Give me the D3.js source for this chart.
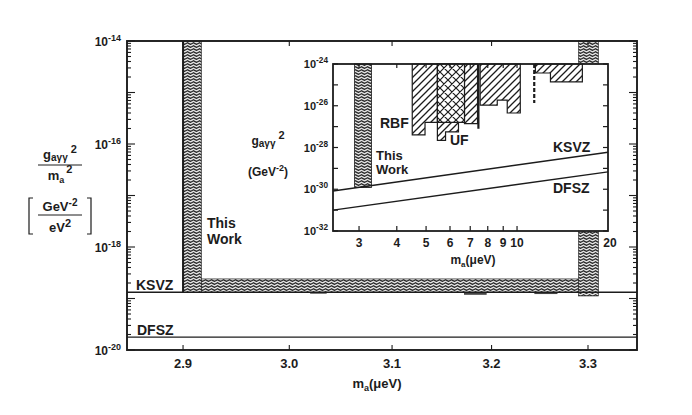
<!DOCTYPE html>
<html><head><meta charset="utf-8">
<script src="https://cdn.jsdelivr.net/npm/d3@7"></script>
<style>
body{margin:0;background:#fff}
svg{display:block}
text{font-family:"Liberation Sans",Arial,Helvetica,sans-serif;font-weight:bold;fill:#1c1c1c}
</style>
</head><body>
<svg id="c" width="692" height="415"></svg>
<script>
// ---------------- data ----------------
// main panel
const mainXTicks = [2.9, 3.0, 3.1, 3.2, 3.3];
const mainXTickLabels = ["2.9", "3.0", "3.1", "3.2", "3.3"];
const mainYLabelExps = [-14, -16, -18, -20];
const mainKSVZ = 1.32e-19;
const mainDFSZ = 1.78e-20;
// "This Work" excluded region: [m low, m high, g2/m2 top, g2/m2 bottom]
const thisWorkMain = [
  [2.900, 2.917, 1e-14, 1.32e-19],
  [2.917, 3.290, 2.40e-19, 1.32e-19],
  [3.290, 3.311, 1e-14, 1.12e-19]
];
// small dips below KSVZ line
const thisWorkDips = [
  [3.020, 3.036, 1.24e-19],
  [3.172, 3.195, 1.18e-19],
  [3.244, 3.268, 1.22e-19]
];

// inset panel
const insetXTicks = [3, 4, 5, 6, 7, 8, 9, 10];
const insetXTickLabels = ["3", "4", "5", "6", "7", "8", "9", "10"];
const insetXEndLabel = "20";
const insetYLabelExps = [-24, -26, -28, -30, -32];
const insetKSVZ = [[2.46, 8.3e-31], [20, 5.9e-29]];
const insetDFSZ = [[2.46, 1.0e-31], [20, 6.8e-30]];
const insetThisWork = [2.9, 3.3, 1e-24, 1.2e-30];
// RBF exclusion regions, each a list of steps [m low, m high, g2 bottom]
const rbfRegions = [
  [[4.50, 4.96, 4.0e-28], [4.96, 5.45, 1.6e-27]],
  [[6.70, 7.40, 1.4e-27]],
  [[7.55, 8.60, 1.07e-26], [8.60, 9.28, 1.86e-26], [9.28, 10.25, 4.5e-27]],
  [[11.5, 12.9, 3.7e-25], [12.9, 16.45, 1.38e-25]]
];
// UF exclusion (cross-hatched) and its lower part
const ufCross = [[5.45, 6.70, 1.6e-27]];
const ufLower = [[5.45, 5.80, 2.2e-28], [5.80, 6.40, 5.6e-28]];
// thin vertical exclusion lines [m, g2 bottom, dashed]
const rbfLines = [[7.45, 7.9e-28, false], [11.4, 1.35e-26, true]];

// ---------------- drawing ----------------
const svg = d3.select("#c");
const defs = svg.append("defs");
const ink = "#1c1c1c";

// patterns
const pw = defs.append("pattern").attr("id", "wave").attr("patternUnits", "userSpaceOnUse")
  .attr("width", 6).attr("height", 3);
pw.append("rect").attr("width", 6).attr("height", 3).attr("fill", "#e4e4e4");
pw.append("path").attr("d", "M0,1.6 L1.5,0.8 L3,1.6 L4.5,2.4 L6,1.6")
  .attr("fill", "none").attr("stroke", "#262626").attr("stroke-width", 1.2);

const pd = defs.append("pattern").attr("id", "diag").attr("patternUnits", "userSpaceOnUse")
  .attr("width", 7).attr("height", 7);
pd.append("rect").attr("width", 7).attr("height", 7).attr("fill", "#fff");
pd.append("path").attr("d", "M-1,8 L8,-1 M-1,1 L1,-1 M6,8 L8,6")
  .attr("stroke", ink).attr("stroke-width", 1.3);

const pc = defs.append("pattern").attr("id", "cross").attr("patternUnits", "userSpaceOnUse")
  .attr("width", 8).attr("height", 8);
pc.append("rect").attr("width", 8).attr("height", 8).attr("fill", "#fff");
pc.append("path").attr("d", "M-1,9 L9,-1 M-1,-1 L9,9 M-1,1 L1,-1 M7,9 L9,7 M-1,7 L1,9 M7,-1 L9,1")
  .attr("stroke", ink).attr("stroke-width", 1.2);

function powLabel(g, x, y, exp, size, anchor) {
  const t = g.append("text").attr("x", x).attr("y", y).attr("text-anchor", anchor || "end")
    .attr("font-size", size);
  t.append("tspan").text("10");
  t.append("tspan").attr("dy", -size * 0.45).attr("font-size", size * 0.75).text(String(exp));
  return t;
}

// ---- main panel ----
const M = {l: 127, r: 637, t: 41, b: 350};
const x = d3.scaleLog().domain([2.8486, 3.352]).range([M.l, M.r]);
const y = d3.scaleLog().domain([1e-20, 1e-14]).range([M.b, M.t]);
const main = svg.append("g");

// This Work region
main.selectAll("rect.tw").data(thisWorkMain).join("rect").attr("class", "tw")
  .attr("x", d => x(d[0])).attr("width", d => x(d[1]) - x(d[0]))
  .attr("y", d => y(d[2])).attr("height", d => y(d[3]) - y(d[2]))
  .attr("fill", "url(#wave)").attr("stroke", ink).attr("stroke-width", 0.6);
main.append("line").attr("x1", x(thisWorkMain[0][0])).attr("x2", x(thisWorkMain[0][0]))
  .attr("y1", y(thisWorkMain[0][2])).attr("y2", y(thisWorkMain[0][3]))
  .attr("stroke", ink).attr("stroke-width", 2);
main.selectAll("rect.dip").data(thisWorkDips).join("rect").attr("class", "dip")
  .attr("x", d => x(d[0])).attr("width", d => x(d[1]) - x(d[0]))
  .attr("y", y(mainKSVZ)).attr("height", d => y(d[2]) - y(mainKSVZ))
  .attr("fill", "#444");

// KSVZ / DFSZ lines
main.append("line").attr("x1", M.l).attr("x2", M.r).attr("y1", y(mainKSVZ)).attr("y2", y(mainKSVZ))
  .attr("stroke", ink).attr("stroke-width", 1.6);
main.append("line").attr("x1", M.l).attr("x2", M.r).attr("y1", y(mainDFSZ)).attr("y2", y(mainDFSZ))
  .attr("stroke", ink).attr("stroke-width", 1.2);

// y ticks (log, minor)
const yt = [];
for (let d = -20; d < -14; d++) for (let k = 1; k < 10; k++) yt.push([k * Math.pow(10, d), k === 1]);
yt.push([1e-14, true]);
yt.forEach(([v, maj]) => {
  const len = maj ? 8 : 4;
  main.append("line").attr("x1", M.l).attr("x2", M.l + len).attr("y1", y(v)).attr("y2", y(v))
    .attr("stroke", ink).attr("stroke-width", 1.1);
  main.append("line").attr("x1", M.r).attr("x2", M.r - len).attr("y1", y(v)).attr("y2", y(v))
    .attr("stroke", ink).attr("stroke-width", 1.1);
});
mainYLabelExps.forEach(e => powLabel(main, M.l - 6, y(Math.pow(10, e)) + 5, e, 12));

// x ticks
mainXTicks.forEach((v, i) => {
  main.append("line").attr("x1", x(v)).attr("x2", x(v)).attr("y1", M.b).attr("y2", M.b - 5)
    .attr("stroke", ink).attr("stroke-width", 1.1);
  main.append("line").attr("x1", x(v)).attr("x2", x(v)).attr("y1", M.t).attr("y2", M.t + 5)
    .attr("stroke", ink).attr("stroke-width", 1.1);
  main.append("text").attr("x", x(v)).attr("y", 368).attr("text-anchor", "middle")
    .attr("font-size", 13).text(mainXTickLabels[i]);
});

// frame
main.append("rect").attr("x", M.l).attr("y", M.t).attr("width", M.r - M.l).attr("height", M.b - M.t)
  .attr("fill", "none").attr("stroke", ink).attr("stroke-width", 1.9);

// labels
main.append("text").attr("x", 136).attr("y", 290).attr("font-size", 14).text("KSVZ");
main.append("text").attr("x", 137).attr("y", 335).attr("font-size", 14).text("DFSZ");
main.append("text").attr("x", 207).attr("y", 228).attr("font-size", 14).text("This");
main.append("text").attr("x", 207).attr("y", 244).attr("font-size", 14).text("Work");

// x title
const xt = main.append("text").attr("x", 377).attr("y", 388).attr("text-anchor", "middle").attr("font-size", 13);
xt.append("tspan").text("m");
xt.append("tspan").attr("dy", 3).attr("font-size", 9).text("a");
xt.append("tspan").attr("dy", -3).text("(μeV)");

// y title
const yg = main.append("g");
const t1 = yg.append("text").attr("x", 60).attr("y", 159).attr("text-anchor", "middle").attr("font-size", 13);
t1.append("tspan").text("g");
t1.append("tspan").attr("dy", 2).attr("font-size", 10).text("aγγ");
t1.append("tspan").attr("dy", -8).attr("dx", 3).attr("font-size", 11).text("2");
yg.append("line").attr("x1", 38).attr("x2", 82).attr("y1", 165).attr("y2", 165).attr("stroke", ink).attr("stroke-width", 1);
const t2 = yg.append("text").attr("x", 60).attr("y", 180).attr("text-anchor", "middle").attr("font-size", 13);
t2.append("tspan").text("m");
t2.append("tspan").attr("dy", 3).attr("font-size", 9).text("a");
t2.append("tspan").attr("dy", -10).attr("dx", 2).attr("font-size", 11).text("2");
yg.append("path").attr("d", "M33,198 L29,198 L29,234 L33,234 M87,198 L91,198 L91,234 L87,234")
  .attr("fill", "none").attr("stroke", ink).attr("stroke-width", 1.2);
const t3 = yg.append("text").attr("x", 60).attr("y", 211).attr("text-anchor", "middle").attr("font-size", 13);
t3.append("tspan").text("GeV");
t3.append("tspan").attr("dy", -5).attr("font-size", 10).text("-2");
yg.append("line").attr("x1", 38).attr("x2", 82).attr("y1", 215).attr("y2", 215).attr("stroke", ink).attr("stroke-width", 1);
const t4 = yg.append("text").attr("x", 60).attr("y", 232).attr("text-anchor", "middle").attr("font-size", 13);
t4.append("tspan").text("eV");
t4.append("tspan").attr("dy", -5).attr("font-size", 11).text("2");

// ---- inset ----
const I = {l: 333, r: 608, t: 64, b: 231};
const xi = d3.scaleLog().domain([2.46, 20]).range([I.l, I.r]);
const yi = d3.scaleLog().domain([1e-32, 1e-24]).range([I.b, I.t]);
const ins = svg.append("g");
ins.append("rect").attr("x", I.l).attr("y", I.t).attr("width", I.r - I.l).attr("height", I.b - I.t)
  .attr("fill", "#fff");

function stepPath(steps, top) {
  let p = "M" + xi(steps[0][0]) + "," + yi(top);
  steps.forEach(s => { p += " L" + xi(s[0]) + "," + yi(s[2]) + " L" + xi(s[1]) + "," + yi(s[2]); });
  p += " L" + xi(steps[steps.length - 1][1]) + "," + yi(top) + " Z";
  return p;
}
ins.append("path").attr("d", stepPath(ufLower, 1e-24)).attr("fill", "url(#diag)")
  .attr("stroke", ink).attr("stroke-width", 1.2);
rbfRegions.forEach(r => ins.append("path").attr("d", stepPath(r, 1e-24)).attr("fill", "url(#diag)")
  .attr("stroke", ink).attr("stroke-width", 1.2));
ins.append("path").attr("d", stepPath(ufCross, 1e-24)).attr("fill", "url(#cross)")
  .attr("stroke", ink).attr("stroke-width", 1.2);
rbfLines.forEach(l => ins.append("line").attr("x1", xi(l[0])).attr("x2", xi(l[0]))
  .attr("y1", yi(1e-24)).attr("y2", yi(l[1])).attr("stroke", ink).attr("stroke-width", 2.2)
  .attr("stroke-dasharray", l[2] ? "4,2" : null));

ins.append("rect").attr("x", xi(insetThisWork[0])).attr("width", xi(insetThisWork[1]) - xi(insetThisWork[0]))
  .attr("y", yi(insetThisWork[2])).attr("height", yi(insetThisWork[3]) - yi(insetThisWork[2]))
  .attr("fill", "url(#wave)").attr("stroke", ink).attr("stroke-width", 0.8);

const line = d3.line().x(d => xi(d[0])).y(d => yi(d[1]));
ins.append("path").attr("d", line(insetKSVZ)).attr("fill", "none").attr("stroke", ink).attr("stroke-width", 1.5);
ins.append("path").attr("d", line(insetDFSZ)).attr("fill", "none").attr("stroke", ink).attr("stroke-width", 1.5);

// inset ticks
for (let d = -32; d <= -24; d++) {
  const v = Math.pow(10, d);
  ins.append("line").attr("x1", I.l).attr("x2", I.l + 5).attr("y1", yi(v)).attr("y2", yi(v)).attr("stroke", ink).attr("stroke-width", 1.2);
  ins.append("line").attr("x1", I.r).attr("x2", I.r - 5).attr("y1", yi(v)).attr("y2", yi(v)).attr("stroke", ink).attr("stroke-width", 1.2);
}
insetYLabelExps.forEach(e => powLabel(ins, I.l - 5, yi(Math.pow(10, e)) + 4, e, 11));
insetXTicks.forEach((v, i) => {
  ins.append("line").attr("x1", xi(v)).attr("x2", xi(v)).attr("y1", I.b).attr("y2", I.b - 5).attr("stroke", ink).attr("stroke-width", 1.2);
  ins.append("line").attr("x1", xi(v)).attr("x2", xi(v)).attr("y1", I.t).attr("y2", I.t + 4).attr("stroke", ink).attr("stroke-width", 1.2);
  ins.append("text").attr("x", xi(v)).attr("y", 247).attr("text-anchor", "middle").attr("font-size", 12).text(insetXTickLabels[i]);
});
ins.append("text").attr("x", xi(20) + 2).attr("y", 247).attr("text-anchor", "middle").attr("font-size", 12).text(insetXEndLabel);

ins.append("rect").attr("x", I.l).attr("y", I.t).attr("width", I.r - I.l).attr("height", I.b - I.t)
  .attr("fill", "none").attr("stroke", ink).attr("stroke-width", 1.8);

// inset labels
ins.append("text").attr("x", 380).attr("y", 128).attr("font-size", 14).text("RBF");
ins.append("text").attr("x", 450).attr("y", 145).attr("font-size", 14).text("UF");
ins.append("text").attr("x", 376).attr("y", 160).attr("font-size", 13).text("This");
ins.append("text").attr("x", 376).attr("y", 174).attr("font-size", 13).text("Work");
ins.append("text").attr("x", 553).attr("y", 152).attr("font-size", 14).text("KSVZ");
ins.append("text").attr("x", 553).attr("y", 193).attr("font-size", 14).text("DFSZ");
const xt2 = ins.append("text").attr("x", 473).attr("y", 264).attr("text-anchor", "middle").attr("font-size", 12);
xt2.append("tspan").text("m");
xt2.append("tspan").attr("dy", 3).attr("font-size", 8).text("a");
xt2.append("tspan").attr("dy", -3).text("(μeV)");
const it1 = ins.append("text").attr("x", 268).attr("y", 145).attr("text-anchor", "middle").attr("font-size", 12);
it1.append("tspan").text("g");
it1.append("tspan").attr("dy", 2).attr("font-size", 10).text("aγγ");
it1.append("tspan").attr("dy", -8).attr("dx", 3).attr("font-size", 11).text("2");
const it2 = ins.append("text").attr("x", 268).attr("y", 176).attr("text-anchor", "middle").attr("font-size", 12);
it2.append("tspan").text("(GeV");
it2.append("tspan").attr("dy", -5).attr("font-size", 9).text("-2");
it2.append("tspan").attr("dy", 5).text(")");
</script>
</body></html>
